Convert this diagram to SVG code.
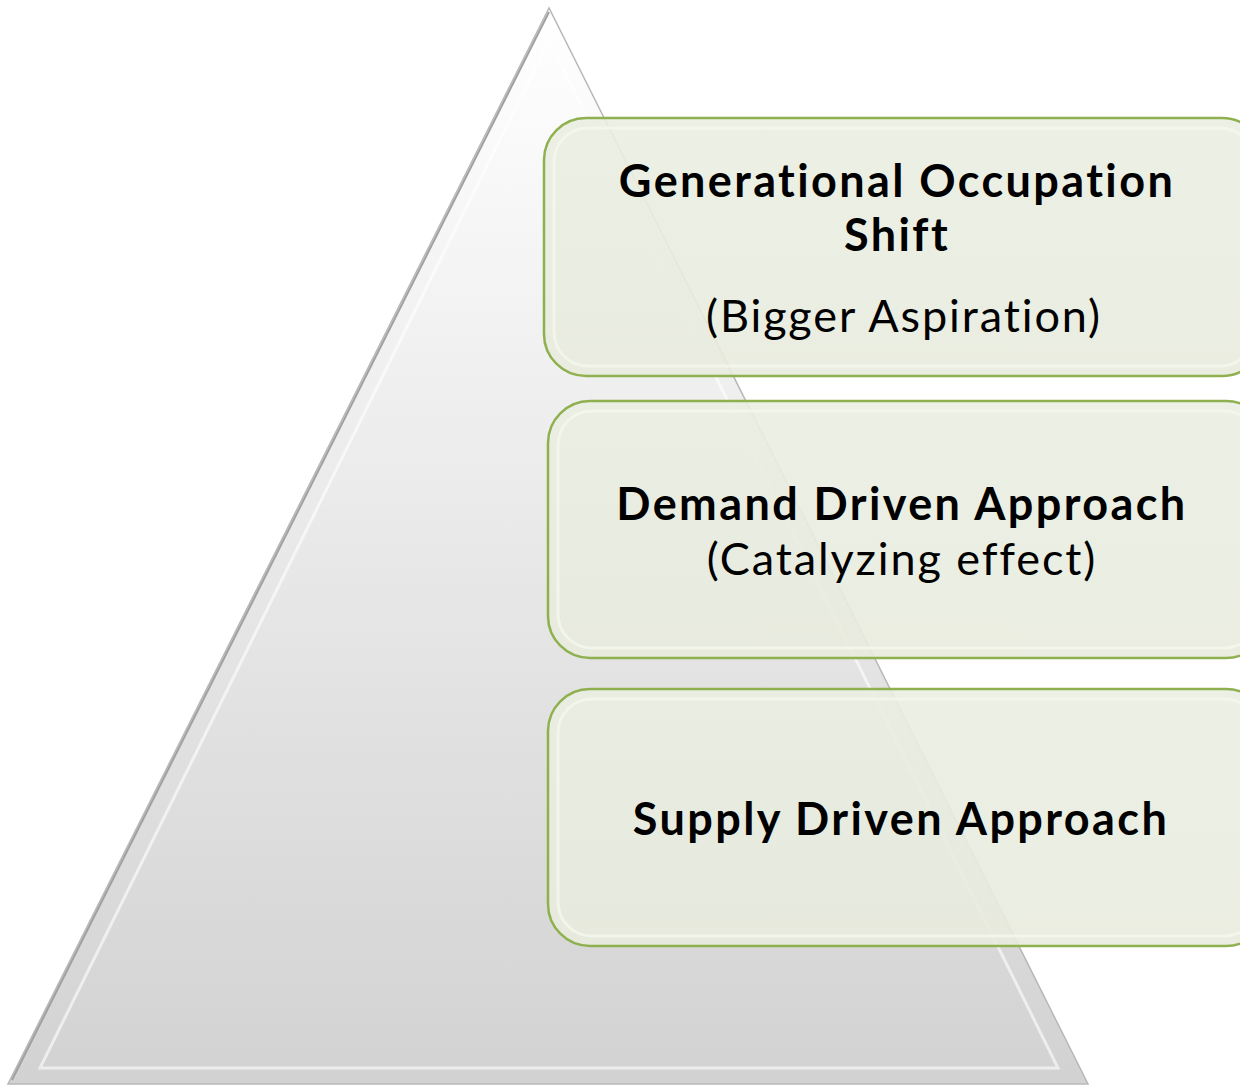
<svg xmlns="http://www.w3.org/2000/svg" width="1240" height="1086" viewBox="0 0 1240 1086">
<defs>
<linearGradient id="pyr" x1="0" y1="0" x2="0" y2="1">
<stop offset="0" stop-color="#ffffff"/>
<stop offset="1" stop-color="#d2d2d2"/>
</linearGradient>
<linearGradient id="boxg" x1="0" y1="0" x2="0" y2="1">
<stop offset="0" stop-color="#eaeee2"/>
<stop offset="1" stop-color="#e8ebdd"/>
</linearGradient>
<style>
.box{fill:url(#boxg);fill-opacity:0.9;stroke:#8fb04f;stroke-width:2.5}
.inner{fill:none;stroke:#f6f9ee;stroke-opacity:0.7;stroke-width:3}
.t{font-family:Lato,"Open Sans","Liberation Sans",sans-serif;fill:#000;text-anchor:middle;font-variant-ligatures:none}
.b{font-weight:bold;font-size:45px;letter-spacing:2.4px}
.n{font-size:45px;letter-spacing:1.9px}
</style>
</defs>
<g id="pyramid">
<polygon points="549,8 8,1084 1088,1084" fill="url(#pyr)" stroke="#b8b8b8" stroke-width="1.5"/>
<polygon points="549,40 40,1068 1058,1068" fill="none" stroke="#ffffff" stroke-width="3" stroke-opacity="0.6"/>
<polyline points="12,1080 549,12" fill="none" stroke="#a0a0a0" stroke-width="2"/>
</g>
<g id="node1">
<rect class="box" x="544" y="118" width="720" height="258" rx="42"/>
<rect class="inner" x="554" y="128" width="700" height="238" rx="34"/>
<text class="t b" x="897" y="197">Generational Occupation</text>
<text class="t b" x="897" y="251">Shift</text>
<text class="t n" x="904" y="332">(Bigger Aspiration)</text>
</g>
<g id="node2">
<rect class="box" x="548" y="401" width="720" height="257" rx="42"/>
<rect class="inner" x="558" y="411" width="700" height="237" rx="34"/>
<text class="t b" x="902" y="520">Demand Driven Approach</text>
<text class="t n" x="902" y="575">(Catalyzing effect)</text>
</g>
<g id="node3">
<rect class="box" x="548" y="689" width="720" height="257" rx="42"/>
<rect class="inner" x="558" y="699" width="700" height="237" rx="34"/>
<text class="t b" x="901" y="835">Supply Driven Approach</text>
</g>
<g id="connectors"/>
</svg>
